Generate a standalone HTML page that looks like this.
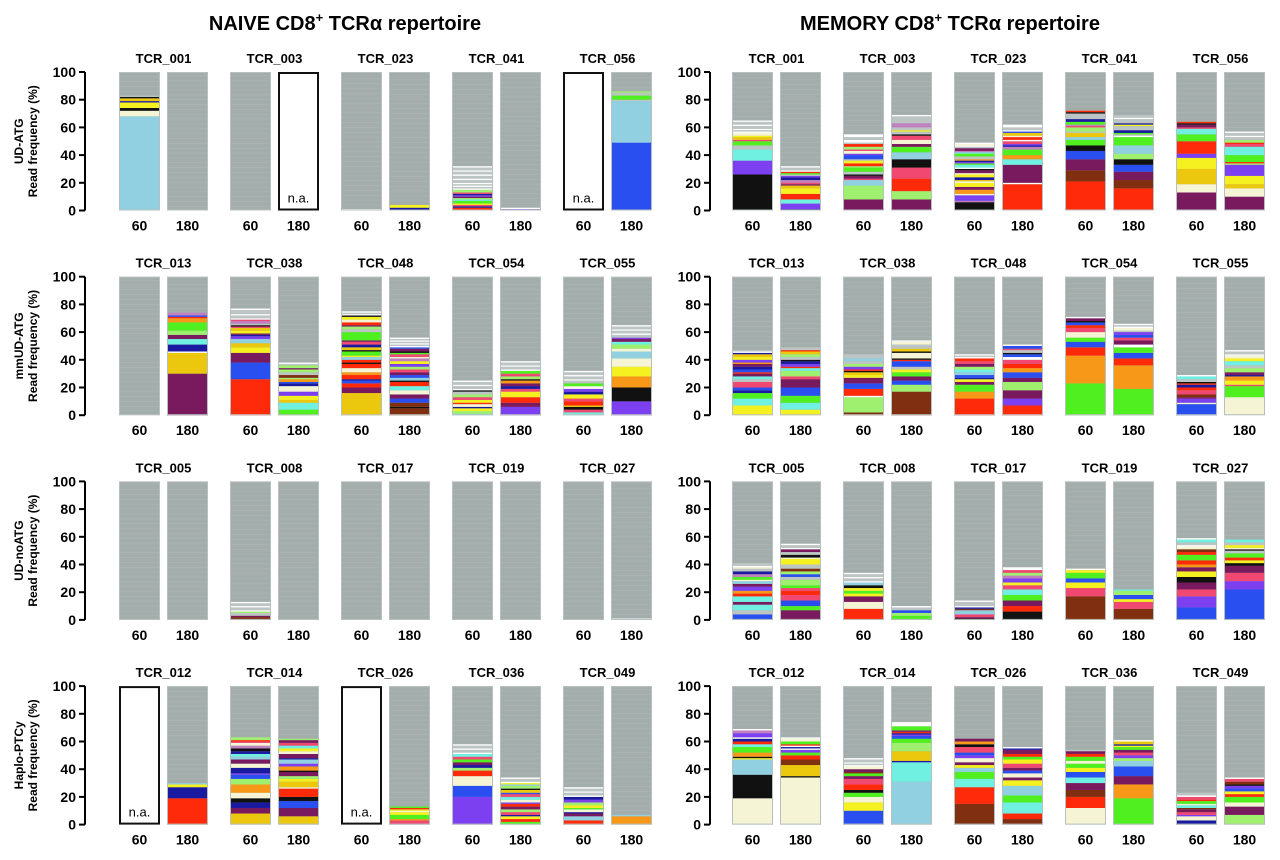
<!DOCTYPE html>
<html><head><meta charset="utf-8"><style>
html,body{margin:0;padding:0;background:#fff;width:1280px;height:860px;overflow:hidden}
svg{display:block;font-family:"Liberation Sans",Arial,sans-serif}
</style></head><body>
<svg id="chart" width="1280" height="860" viewBox="0 0 1280 860">
<text x="345" y="30" text-anchor="middle" font-size="20" font-weight="bold">NAIVE CD8<tspan dy="-8" font-size="13">+</tspan><tspan dy="8"> TCRα repertoire</tspan></text>
<text x="950" y="30" text-anchor="middle" font-size="20" font-weight="bold">MEMORY CD8<tspan dy="-8" font-size="13">+</tspan><tspan dy="8"> TCRα repertoire</tspan></text>
</svg>
<script>
const groups = ["UD-ATG","mmUD-ATG","UD-noATG","Haplo-PTCy"];
const patients = [
 ["TCR_001","TCR_003","TCR_023","TCR_041","TCR_056"],
 ["TCR_013","TCR_038","TCR_048","TCR_054","TCR_055"],
 ["TCR_005","TCR_008","TCR_017","TCR_019","TCR_027"],
 ["TCR_012","TCR_014","TCR_026","TCR_036","TCR_049"]
];
const days = ["60","180"];
const yTicks = [0,20,40,60,80,100];
// segments from bottom: colour letter + percent; "NA" = not available; remainder = grey
const naive = [
 [["c68 e4 k2 y4 n1 G2 k1 s1",""],["","NA"],["W1","n2 y2"],["r2 n1 m1 y1 g2 t1 l1 p1 v1 n1 m1 l2 W1 s1 W1 s1 W1 s2 W1 s2 W1 s2 W1 s2 W1","v1 W1"],["NA","b49 c30 s1 g3 s2 l1"]],
 [["","p30 G15 W1 n5 t4 p3 l3 g6 o3 r1 b1 x2"],["r26 b12 p7 y4 G3 c3 v2 n1 p1 y2 G2 m1 k1 s1 x2 m1 W1 s2 W1 s3 W1","g4 t5 G2 y3 v3 e4 n2 b1 o2 l1 d2 s2 l2 p1 l2 s1 W1"],["G16 p4 r3 b2 n1 r3 o2 e3 r3 k1 r2 c2 y1 g3 k1 G2 n2 m2 p1 g6 s2 l2 p1 r2 e2 y2 k1 W1 s1 W1","d5 k1 d3 b3 p3 e3 t3 r3 k1 c2 b2 p2 m2 l2 v2 y2 x2 e1 m2 g1 k1 p2 b1 W1 s1 W1 s1 W1 s1 W1"],["t1 l2 y2 n1 e2 r1 y2 m2 l2 s2 k1 W1 s2 W1 s2 W1","v6 p3 r4 y4 m2 n2 p2 o2 k1 l2 m2 g2 W1 s2 W1 s2 W1"],["t2 m2 k2 G1 r3 m2 y3 n2 v2 W1 e1 g2 s2 W1 s2 W1 s2 W1","v10 k10 o8 y7 e6 c5 e2 l3 t2 p2 v1 s2 W1 s2 W1 s2 W1"]],
 [["",""],["d2 p1 s2 l1 W1 s2 W1 s2 W1",""],["",""],["",""],["","W1"]],
 [["NA","r19 n8 y2 c1"],["G8 p4 n4 k3 e4 o6 l4 b3 v1 n4 e3 p3 c2 t2 n2 k2 x2 e2 m1 r1 l2","G6 p6 b5 k3 r6 e1 G4 y2 l2 p3 k1 o3 v2 c3 n1 p3 e2 y2 t2 m2 p2 l1"],["NA","m3 o1 g3 y2 e1 y1 r1 g1"],["v20 b8 e7 r4 l2 n2 p2 g2 m2 t2 W1 s2 W1 s2 W1","g2 r2 y2 n1 m2 l2 p2 r2 v1 e2 t2 m2 b1 G2 k1 l2 c1 y1 W1 s2 W1"],["r3 c3 p2 n1 e2 g1 y2 l2 v2 n2 W1 s2 W1 s2 W1","o6 c1"]]
];
const memory = [
 [["k26 v10 t8 s3 g3 m1 G2 y1 e2 W1 s1 W1 s2 W1 s2 W1","n1 v4 t3 r4 y4 G2 p1 m1 x2 n2 v1 s1 g1 r1 W1 s2 W1"],["p8 l10 c4 m1 p2 k1 s2 g3 l1 r2 y2 s1 b3 v1 e2 m1 l2 r2 s1 W2 s2 W2","p8 l6 r9 m8 k6 c5 g4 p2 e3 m3 k1 s2 y1 s2 x3 s5 W1"],["k6 x1 v4 e1 o3 p2 y3 W1 G1 n2 y2 e1 p2 k1 W1 t2 g1 v1 n1 o1 s2 g2 t1 x1 p2 s1 W1 e1 W1","r19 W1 p13 t4 o3 g4 x2 n1 v1 m2 W1 r2 e1 G2 b1 W1 s2 W2"],["r21 d8 p8 b6 k4 g4 c2 G3 s1 l3 m1 x1 g2 n2 s1 s3 k1 r1","r16 d6 p6 b5 k4 l4 c6 g6 W1 s1 g1 n2 s3 y1 n1 s3 W1 s2"],["p13 e6 G11 y8 v3 r9 g5 t4 m1 p2 k1 r1","p10 e6 G3 y6 v8 l1 r1 g5 t6 m2 r1 l2 s2 W1 s2 W1"]],
 [["y7 t5 g4 n2 b2 m4 s2 t2 p2 r1 b2 n2 p2 o1 v2 y2 G2 n1 W1 s1","y4 t5 g5 b6 p6 m2 l4 t2 r1 v2 n2 k1 s2 l2 G2 r1 s2"],["d2 l11 W1 r5 b4 p4 y2 G2 k1 r1 v2 l2 s2 c2 s3","d17 l5 b3 p3 g3 y2 s2 b4 r1 k1 e4 k1 G2 s3 e2 W1"],["r12 o5 g5 p2 y2 n1 b2 c2 t2 l2 p2 m2 r2 W1 s1 W1","r7 v5 p6 l6 p3 b4 o3 r3 m3 W2 b2 k1 s2 m1 b2 W1"],["g23 o20 r6 b4 g3 e4 m3 r2 b2 k1 p2 W1","g19 o17 r5 b4 g4 W2 p3 m2 b2 v2 s1 e2 W1 s1 W1"],["b8 e1 v3 p1 d2 m3 r2 n2 r1 k1 s2 t2 W1","e13 g8 m1 y3 o3 n1 p2 l3 s2 t3 y2 e2 W1 s2 W1"]],
 [["b4 s3 t4 p2 t4 r2 o2 v3 p2 c2 e1 g2 x2 n2 s2 e1 W1 s2","p7 g3 b4 m4 r3 m2 g2 l4 s2 b2 l2 d2 s3 y4 e1 k2 s2 p2 W1 s2 W1"],["r8 e5 p4 y2 g2 y2 k2 c2 W1 s2 W1 s2 W1","g3 l2 b2 s2 W1"],["k1 p1 m2 c3 d1 n1 W1 s3 W1","k6 r4 p4 g4 t4 m3 y2 v3 x2 l2 m2 W2"],["d17 m6 y4 b3 g4 y2 W1","d8 m5 y2 b3 l3 t1"],["b9 v8 m5 p5 k4 y4 p3 o2 r3 g4 r2 d2 e2 W1 s2 t2 W1","b22 v6 m6 p5 k2 y2 r2 g3 s2 k1 e1 y2 s2 t2"]],
 [["e19 k17 c11 y1 k1 o3 g4 t2 r2 n2 W1 v3 x2 W1","e34 k1 G8 d4 r3 g2 v2 W1 n1 W1 r1 g2 e2 W1"],["b10 y6 e4 g3 k2 r4 m4 p2 g2 d1 p2 e2 W1 s1 W1 s2 W1","c31 t14 n1 G7 l6 g3 b2 v1 n1 r1 p1 g3 W3"],["d15 r12 t6 g5 c3 y2 p2 e3 v2 b2 m4 k2 o2 p2","d4 r4 t8 g5 c7 y4 p2 e3 b2 p2 m3 y3 g2 r2 p3 n1 W1"],["e12 r8 d5 p5 t4 b4 y3 g3 e2 g3 r2 p2 s1","g19 o10 p6 b7 c4 l2 v2 m2 p2 g2 y1 n1 G2 W1"],["n3 e3 v1 m2 p2 d1 t2 e1 g2 r1 m2 W1 s2","l7 p6 e3 g4 r2 y2 b2 v2 k1 d2 m2 W1"]]
];
const colors = {k:"#111111",p:"#7a1a5e",v:"#7d40f0",b:"#2a4ff0",n:"#1a1aa0",c:"#90d0e0",t:"#70f0e0",g:"#50f020",l:"#a0f070",y:"#f5f020",G:"#ebc80e",o:"#f89818",r:"#ff2a0a",m:"#f04870",e:"#f5f5d5",d:"#803010",s:"#bcc5c3",W:"#ffffff",x:"#c080c0"};
const NS="http://www.w3.org/2000/svg";
const svg=document.getElementById("chart");
function mk(tag,attrs,parent){const e=document.createElementNS(NS,tag);for(const k in attrs)e.setAttribute(k,attrs[k]);(parent||svg).appendChild(e);return e;}
const rowTop=r=>72+r*204.7, H=138.5;
function yScale(r,v){return rowTop(r)+H-v/100*H;}
const panels=[{x0:119,axis:85,data:naive,name:"naive"},{x0:732,axis:710,data:memory,name:"memory"}];
const step=111,bw=41,off=48;
panels.forEach((P,pi)=>{
 for(let r=0;r<4;r++){
  const ax=mk("line",{x1:P.axis,x2:P.axis,y1:yScale(r,100),y2:yScale(r,0),stroke:"#000","stroke-width":2});
  
  
  yTicks.forEach(t=>{
   const y=yScale(r,t);
   const tl=mk("line",{x1:P.axis-6,x2:P.axis,y1:y,y2:y,stroke:"#000","stroke-width":2});
   
   
   const tx=mk("text",{x:P.axis-9,y:y+5,"text-anchor":"end","font-size":14,"font-weight":"bold"});
   tx.textContent=t;
   
   
  });
  if(pi===0){
   const cy=rowTop(r)+H/2;
   const t1=mk("text",{x:0,y:0,transform:`translate(23,${cy}) rotate(-90)`,"text-anchor":"middle","font-size":12,"font-weight":"bold"});
   t1.textContent=groups[r];
   
   
   const t2=mk("text",{x:0,y:0,transform:`translate(37,${cy}) rotate(-90)`,"text-anchor":"middle","font-size":12,"font-weight":"bold"});
   t2.textContent="Read frequency (%)";
   
   
  }
  for(let c=0;c<5;c++){
   const px=P.x0+c*step;
   const pt=mk("text",{x:px+(bw+off)/2,y:rowTop(r)-9,"text-anchor":"middle","font-size":13,"font-weight":"bold"});
   pt.textContent=patients[r][c];
   
   
   for(let d=0;d<2;d++){
    const bx=px+d*off;
    const spec=P.data[r][c][d];
    const g=mk("g",{});
    
    
    const dl=mk("text",{x:bx+bw/2,y:rowTop(r)+H+20,"text-anchor":"middle","font-size":14,"font-weight":"bold"});
    dl.textContent=days[d];
    
    
    if(spec==="NA"){
     mk("rect",{x:bx+1,y:yScale(r,100)+1,width:bw-2,height:H-2,fill:"#fff",stroke:"#111","stroke-width":2},g);
     const na=mk("text",{x:bx+bw/2,y:yScale(r,0)-8,"text-anchor":"middle","font-size":13},g);
     na.textContent="n.a.";
     
     
     continue;
    }
    mk("rect",{x:bx,y:yScale(r,100),width:bw,height:H,fill:"#a3adab"},g);
    let cum=0;
    const toks=spec.trim()?spec.trim().split(/\s+/):[];
    toks.forEach(tk=>{
     const col=colors[tk[0]], v=parseFloat(tk.slice(1));
     const top=Math.min(100,cum+v);
     mk("rect",{x:bx,y:yScale(r,top),width:bw,height:Math.max(0.5,yScale(r,cum)-yScale(r,top)),fill:col},g);
     cum=top;
    });
    for(let s=cum+3;s<98;s+=3.5){
     mk("line",{x1:bx,x2:bx+bw,y1:yScale(r,s),y2:yScale(r,s),stroke:"#adb6b5","stroke-width":0.6},g);
    }
    mk("rect",{x:bx+0.5,y:yScale(r,100)+0.5,width:bw-1,height:H-1,fill:"none",stroke:"#b8c0bf","stroke-width":1},g);
   }
  }
 }
});
</script>
</body></html>
